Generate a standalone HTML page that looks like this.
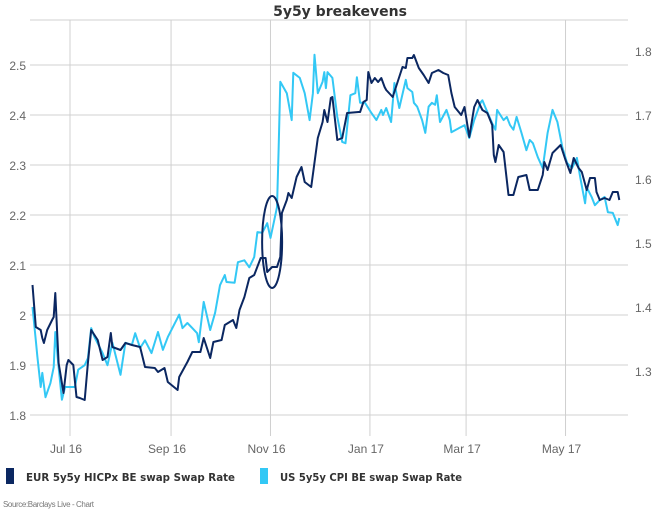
<!DOCTYPE html>
<html><head><meta charset="utf-8">
<style>
body{margin:0;background:#fff;width:670px;height:514px;overflow:hidden}
svg{display:block}
</style></head>
<body>
<svg id="chart" width="670" height="514" xmlns="http://www.w3.org/2000/svg">
<text x="340" y="16" text-anchor="middle" font-family="DejaVu Sans, sans-serif" font-weight="bold" font-size="14" fill="#333">5y5y breakevens</text>
<g id="grid"></g><g id="series"></g><g id="axes"></g>
<g>
 <rect x="6" y="468" width="8" height="16" fill="#0b2761"/>
 <text x="26" y="481" font-family="DejaVu Sans, sans-serif" font-weight="bold" font-size="11" fill="#333" textLength="209" lengthAdjust="spacingAndGlyphs">EUR 5y5y HICPx BE swap Swap Rate</text>
 <rect x="260" y="468" width="8" height="16" fill="#33c8f5"/>
 <text x="280" y="481" font-family="DejaVu Sans, sans-serif" font-weight="bold" font-size="11" fill="#333" textLength="182" lengthAdjust="spacingAndGlyphs">US 5y5y CPI BE swap Swap Rate</text>
</g>
<text x="3" y="507" font-family="Liberation Sans, sans-serif" font-size="8" fill="#777" letter-spacing="-0.4">Source:Barclays Live - Chart</text>
</svg>
<script>
// days since 2016-07-01
const eurDays=[-23,-21,-18,-17,-16,-14,-11,-10,-9,-7,-5,-4,-2,-1,2,4,6,9,11,13,17,20,23,25,26,31,34,38,43,46,52,54,58,60,66,67,72,75,80,82,86,88,93,95,100,102,104,107,110,113,117,120,121,124,127,129,130,133,134,136,139,142,144,148,152,155,156,158,160,161,164,167,170,177,178,180,182,183,185,187,189,191,193,194,198,201,204,206,207,210,211,214,217,220,222,226,229,232,234,236,240,242,245,248,250,253,256,259,260,261,263,266,269,272,275,280,282,287,290,291,293,296,301,304,307,309,312,314,317,319,322,323,325,328,331,333,336,337];
const eurValues=[2.06,1.976,1.97,1.954,1.944,1.97,1.99,1.996,2.044,1.904,1.864,1.844,1.90,1.91,1.90,1.836,1.834,1.83,1.904,1.97,1.95,1.91,1.916,1.964,1.936,1.93,1.944,1.94,1.936,1.896,1.894,1.886,1.894,1.866,1.85,1.876,1.906,1.926,1.926,1.954,1.914,1.946,1.95,1.98,1.99,1.974,2.01,2.036,2.074,2.08,2.114,2.114,2.086,2.096,2.096,2.116,2.204,2.23,2.244,2.234,2.276,2.296,2.266,2.256,2.354,2.386,2.41,2.386,2.434,2.436,2.35,2.354,2.404,2.406,2.406,2.426,2.43,2.486,2.464,2.474,2.466,2.474,2.456,2.45,2.436,2.466,2.496,2.494,2.514,2.514,2.52,2.494,2.48,2.464,2.484,2.49,2.484,2.48,2.444,2.416,2.40,2.416,2.356,2.416,2.43,2.41,2.404,2.38,2.32,2.306,2.34,2.326,2.24,2.24,2.276,2.28,2.25,2.25,2.28,2.306,2.29,2.324,2.34,2.31,2.284,2.314,2.294,2.286,2.25,2.274,2.274,2.246,2.23,2.234,2.23,2.246,2.246,2.23];
const usDays=[-23,-21,-20,-18,-17,-15,-12,-10,-9,-7,-5,-3,3,5,9,11,13,15,20,23,26,31,34,38,40,43,46,50,54,57,60,67,69,72,75,78,79,82,86,89,92,95,96,101,103,107,110,113,115,118,121,123,127,128,129,133,136,137,141,144,147,149,150,152,155,156,157,158,161,164,167,169,172,175,176,178,181,185,188,191,192,194,197,199,202,206,207,210,211,213,216,218,220,222,224,225,227,231,233,234,239,242,245,248,252,253,255,259,261,262,266,268,270,272,274,277,280,282,284,287,290,293,296,299,302,305,308,311,313,316,317,320,322,325,328,330,333,336,337];
const usValues=[1.400,1.348,1.322,1.275,1.297,1.259,1.281,1.306,1.361,1.306,1.255,1.275,1.275,1.302,1.309,1.320,1.367,1.353,1.328,1.309,1.344,1.294,1.344,1.341,1.359,1.336,1.348,1.328,1.361,1.333,1.353,1.388,1.367,1.375,1.367,1.359,1.345,1.408,1.364,1.391,1.434,1.450,1.439,1.438,1.470,1.473,1.462,1.478,1.517,1.516,1.531,1.508,1.556,1.645,1.752,1.734,1.692,1.766,1.758,1.734,1.692,1.734,1.794,1.734,1.752,1.767,1.742,1.767,1.758,1.697,1.658,1.656,1.731,1.734,1.759,1.719,1.719,1.703,1.692,1.708,1.700,1.711,1.689,1.750,1.711,1.755,1.742,1.736,1.719,1.713,1.692,1.672,1.713,1.719,1.716,1.731,1.689,1.708,1.692,1.673,1.680,1.684,1.664,1.692,1.720,1.723,1.711,1.687,1.677,1.708,1.692,1.697,1.684,1.677,1.697,1.672,1.645,1.661,1.656,1.634,1.617,1.672,1.708,1.689,1.650,1.625,1.617,1.633,1.603,1.562,1.587,1.572,1.559,1.567,1.572,1.548,1.547,1.528,1.539];
const leftTicks=[1.8,1.9,2,2.1,2.2,2.3,2.4,2.5];
const leftTickLabels=["1.8","1.9","2","2.1","2.2","2.3","2.4","2.5"];
const rightTicks=[1.3,1.4,1.5,1.6,1.7,1.8];
const rightTickLabels=["1.3","1.4","1.5","1.6","1.7","1.8"];
const monthDays=[0,62,123,184,243,304];
const monthLabels=["Jul 16","Sep 16","Nov 16","Jan 17","Mar 17","May 17"];

const NS="http://www.w3.org/2000/svg";
const X0=70, PXD=1.63;
function xS(d){return X0+d*PXD;}
function yL(v){return 65+(2.5-v)*500;}
function yR(v){return 51+(1.8-v)*640;}
function mk(tag,attrs,parent){const e=document.createElementNS(NS,tag);for(const k in attrs)e.setAttribute(k,attrs[k]);parent.appendChild(e);return e;}
const grid=document.getElementById('grid'),axes=document.getElementById('axes'),ser=document.getElementById('series');
const PL=30,PR=628,PT=20,PB=436;
let l=mk('line',{x1:PL,x2:PR,y1:PT,y2:PT,stroke:'#d0d0d0','stroke-width':1},grid);


leftTicks.forEach((v,i)=>{
 const y=yL(v);
 const g=mk('line',{x1:PL,x2:PR,y1:y,y2:y,stroke:'#d0d0d0','stroke-width':1},grid);
 
 
 const t=mk('text',{x:PL-4,y:y+5,'text-anchor':'end','font-family':'Liberation Sans, sans-serif','font-size':'12',fill:'#666'},axes);
 t.textContent=leftTickLabels[i];
 
 
});
rightTicks.forEach((v,i)=>{
 const t=mk('text',{x:PR+7,y:yR(v)+5,'font-family':'Liberation Sans, sans-serif','font-size':'12',fill:'#666'},axes);
 t.textContent=rightTickLabels[i];
 
 
});
monthDays.forEach((d,i)=>{
 const x=xS(d);
 const g=mk('line',{x1:x,x2:x,y1:PT,y2:PB,stroke:'#d0d0d0','stroke-width':1},grid);
 
 
 const t=mk('text',{x:x-4,y:453,'text-anchor':'middle','font-family':'Liberation Sans, sans-serif','font-size':'12',fill:'#666'},axes);
 t.textContent=monthLabels[i];
 
 
});
function path(days,vals,ys){return days.map((d,i)=>(i?'L':'M')+xS(d).toFixed(1)+' '+ys(vals[i]).toFixed(1)).join(' ');}
const pu=mk('path',{d:path(usDays,usValues,yR),fill:'none',stroke:'#33c8f5','stroke-width':2,'stroke-linejoin':'round'},ser);


const pe=mk('path',{d:path(eurDays,eurValues,yL),fill:'none',stroke:'#0b2761','stroke-width':2,'stroke-linejoin':'round'},ser);


const el=mk('ellipse',{cx:xS(124),cy:yL(2.146),rx:10,ry:46,fill:'none',stroke:'#0b2761','stroke-width':2},ser);


</script>
</body></html>
